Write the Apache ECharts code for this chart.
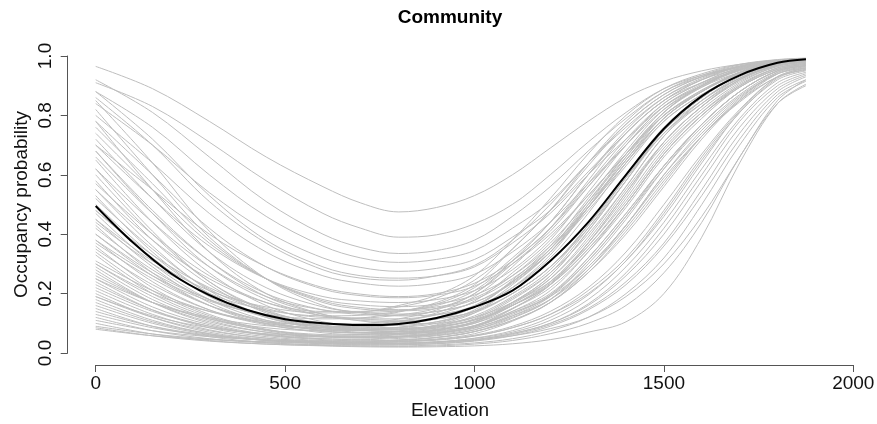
<!DOCTYPE html>
<html>
<head>
<meta charset="utf-8">
<script src="https://cdn.jsdelivr.net/npm/echarts@6/dist/echarts.min.js"></script>
<style>
  html, body { margin: 0; padding: 0; background: #fff; }
  #chart { width: 877px; height: 424px; }
</style>
</head>
<body>
<div id="chart"></div>
<script>
const elevation = [0, 150, 300, 450, 600, 700, 800, 900, 1000, 1100, 1200, 1300, 1400, 1500, 1600, 1700, 1800, 1875];

// grey posterior sample curves (occupancy at each elevation above)
const upperCurves = [
  [0.965, 0.89, 0.78, 0.66, 0.56, 0.505, 0.475, 0.49, 0.53, 0.60, 0.69, 0.78, 0.86, 0.915, 0.95, 0.972, 0.985, 0.99],
  [0.91, 0.83, 0.71, 0.58, 0.47, 0.42, 0.39, 0.398, 0.435, 0.50, 0.60, 0.71, 0.81, 0.89, 0.935, 0.965, 0.985, 0.99],
  [0.92, 0.81, 0.66, 0.51, 0.40, 0.355, 0.335, 0.345, 0.38, 0.46, 0.56, 0.68, 0.79, 0.88, 0.93, 0.962, 0.982, 0.99],
  [0.88, 0.76, 0.60, 0.46, 0.36, 0.32, 0.305, 0.315, 0.345, 0.42, 0.51, 0.64, 0.76, 0.86, 0.92, 0.957, 0.98, 0.988],
  [0.84, 0.70, 0.54, 0.41, 0.32, 0.288, 0.275, 0.285, 0.315, 0.39, 0.48, 0.61, 0.74, 0.85, 0.91, 0.952, 0.978, 0.987],
  [0.86, 0.70, 0.51, 0.37, 0.28, 0.252, 0.245, 0.26, 0.295, 0.38, 0.50, 0.64, 0.77, 0.87, 0.93, 0.965, 0.985, 0.99],
  [0.80, 0.64, 0.47, 0.34, 0.26, 0.235, 0.225, 0.235, 0.265, 0.34, 0.44, 0.57, 0.70, 0.82, 0.895, 0.945, 0.975, 0.985],
  [0.78, 0.60, 0.42, 0.29, 0.215, 0.193, 0.186, 0.195, 0.225, 0.30, 0.40, 0.53, 0.67, 0.80, 0.885, 0.94, 0.975, 0.985],
  [0.74, 0.55, 0.37, 0.25, 0.18, 0.162, 0.156, 0.165, 0.195, 0.26, 0.36, 0.49, 0.64, 0.78, 0.87, 0.935, 0.97, 0.98],
  [0.82, 0.60, 0.39, 0.25, 0.17, 0.148, 0.142, 0.15, 0.18, 0.25, 0.35, 0.49, 0.64, 0.79, 0.88, 0.94, 0.975, 0.985],
  [0.88, 0.72, 0.53, 0.38, 0.29, 0.26, 0.252, 0.26, 0.29, 0.37, 0.47, 0.60, 0.72, 0.83, 0.90, 0.95, 0.978, 0.987],
  [0.70, 0.55, 0.40, 0.29, 0.22, 0.198, 0.19, 0.20, 0.235, 0.31, 0.42, 0.56, 0.70, 0.83, 0.90, 0.955, 0.98, 0.99],
  [0.78, 0.55, 0.34, 0.20, 0.13, 0.108, 0.099, 0.10, 0.12, 0.17, 0.24, 0.36, 0.52, 0.69, 0.81, 0.90, 0.96, 0.975],
  [0.85, 0.64, 0.41, 0.25, 0.16, 0.135, 0.125, 0.13, 0.155, 0.22, 0.31, 0.44, 0.60, 0.75, 0.85, 0.925, 0.97, 0.98],
  [0.76, 0.57, 0.38, 0.25, 0.175, 0.153, 0.146, 0.155, 0.185, 0.26, 0.37, 0.51, 0.66, 0.80, 0.885, 0.945, 0.978, 0.988],
  [0.70, 0.52, 0.36, 0.25, 0.19, 0.175, 0.17, 0.18, 0.21, 0.28, 0.39, 0.53, 0.67, 0.80, 0.88, 0.94, 0.975, 0.985],
  [0.72, 0.52, 0.34, 0.22, 0.155, 0.137, 0.131, 0.14, 0.17, 0.235, 0.34, 0.48, 0.63, 0.78, 0.87, 0.935, 0.975, 0.985],
  [0.66, 0.47, 0.31, 0.20, 0.145, 0.13, 0.127, 0.14, 0.17, 0.24, 0.35, 0.50, 0.65, 0.80, 0.88, 0.945, 0.98, 0.99],
  [0.68, 0.47, 0.29, 0.18, 0.125, 0.11, 0.106, 0.115, 0.14, 0.20, 0.29, 0.42, 0.58, 0.74, 0.84, 0.92, 0.97, 0.982]
];

const middleCurves = [
  [0.65, 0.44, 0.27, 0.16, 0.105, 0.09, 0.085, 0.09, 0.112, 0.16, 0.23, 0.35, 0.50, 0.67, 0.80, 0.895, 0.955, 0.972],
  [0.60, 0.40, 0.24, 0.145, 0.095, 0.083, 0.08, 0.088, 0.11, 0.16, 0.235, 0.36, 0.51, 0.68, 0.81, 0.905, 0.96, 0.975],
  [0.55, 0.36, 0.21, 0.125, 0.085, 0.075, 0.072, 0.08, 0.10, 0.15, 0.22, 0.34, 0.49, 0.66, 0.79, 0.895, 0.955, 0.972],
  [0.50, 0.33, 0.20, 0.125, 0.09, 0.082, 0.082, 0.092, 0.12, 0.185, 0.27, 0.40, 0.56, 0.73, 0.84, 0.925, 0.97, 0.982],
  [0.45, 0.29, 0.17, 0.105, 0.075, 0.068, 0.068, 0.078, 0.10, 0.16, 0.24, 0.37, 0.53, 0.71, 0.83, 0.92, 0.968, 0.98],
  [0.42, 0.28, 0.18, 0.125, 0.10, 0.097, 0.102, 0.12, 0.155, 0.24, 0.34, 0.49, 0.65, 0.79, 0.88, 0.945, 0.98, 0.988],
  [0.38, 0.24, 0.145, 0.095, 0.072, 0.068, 0.072, 0.085, 0.115, 0.18, 0.27, 0.42, 0.59, 0.75, 0.86, 0.935, 0.975, 0.985],
  [0.35, 0.23, 0.145, 0.10, 0.08, 0.079, 0.086, 0.10, 0.14, 0.22, 0.32, 0.47, 0.64, 0.79, 0.88, 0.945, 0.98, 0.99],
  [0.33, 0.20, 0.12, 0.075, 0.055, 0.051, 0.053, 0.06, 0.078, 0.12, 0.18, 0.29, 0.43, 0.60, 0.74, 0.86, 0.94, 0.96],
  [0.30, 0.19, 0.115, 0.078, 0.062, 0.06, 0.066, 0.078, 0.105, 0.165, 0.25, 0.39, 0.56, 0.73, 0.85, 0.93, 0.972, 0.983],
  [0.28, 0.17, 0.10, 0.063, 0.048, 0.045, 0.049, 0.058, 0.078, 0.125, 0.19, 0.31, 0.46, 0.63, 0.77, 0.88, 0.95, 0.968],
  [0.26, 0.17, 0.115, 0.085, 0.075, 0.076, 0.087, 0.105, 0.145, 0.23, 0.34, 0.50, 0.67, 0.81, 0.90, 0.955, 0.98, 0.99],
  [0.24, 0.145, 0.085, 0.055, 0.042, 0.04, 0.044, 0.052, 0.072, 0.117, 0.18, 0.30, 0.45, 0.62, 0.77, 0.88, 0.95, 0.968],
  [0.22, 0.14, 0.09, 0.063, 0.054, 0.054, 0.062, 0.075, 0.103, 0.17, 0.26, 0.41, 0.58, 0.75, 0.86, 0.935, 0.975, 0.985],
  [0.20, 0.12, 0.07, 0.046, 0.036, 0.035, 0.039, 0.047, 0.065, 0.107, 0.17, 0.28, 0.43, 0.60, 0.75, 0.865, 0.94, 0.96],
  [0.19, 0.125, 0.085, 0.065, 0.06, 0.062, 0.074, 0.095, 0.135, 0.22, 0.33, 0.49, 0.66, 0.81, 0.90, 0.955, 0.98, 0.99],
  [0.62, 0.41, 0.24, 0.14, 0.09, 0.077, 0.072, 0.075, 0.092, 0.135, 0.19, 0.29, 0.43, 0.59, 0.73, 0.85, 0.93, 0.955],
  [0.58, 0.38, 0.23, 0.135, 0.09, 0.08, 0.077, 0.083, 0.105, 0.16, 0.23, 0.35, 0.50, 0.67, 0.80, 0.895, 0.955, 0.972],
  [0.52, 0.35, 0.215, 0.14, 0.10, 0.092, 0.093, 0.105, 0.135, 0.20, 0.29, 0.43, 0.60, 0.75, 0.86, 0.935, 0.975, 0.985],
  [0.47, 0.30, 0.18, 0.11, 0.075, 0.067, 0.066, 0.072, 0.092, 0.14, 0.20, 0.32, 0.47, 0.63, 0.77, 0.88, 0.95, 0.968],
  [0.44, 0.30, 0.20, 0.145, 0.125, 0.127, 0.14, 0.165, 0.22, 0.32, 0.44, 0.60, 0.74, 0.85, 0.92, 0.963, 0.985, 0.99],
  [0.40, 0.26, 0.16, 0.105, 0.08, 0.076, 0.08, 0.092, 0.125, 0.19, 0.28, 0.43, 0.60, 0.76, 0.865, 0.94, 0.977, 0.986],
  [0.36, 0.22, 0.13, 0.08, 0.057, 0.053, 0.055, 0.062, 0.083, 0.13, 0.195, 0.32, 0.47, 0.63, 0.77, 0.88, 0.95, 0.966],
  [0.31, 0.21, 0.14, 0.10, 0.085, 0.085, 0.097, 0.115, 0.155, 0.245, 0.36, 0.52, 0.68, 0.82, 0.90, 0.957, 0.98, 0.99],
  [0.29, 0.18, 0.11, 0.07, 0.054, 0.052, 0.057, 0.067, 0.092, 0.15, 0.23, 0.37, 0.54, 0.70, 0.82, 0.91, 0.965, 0.978],
  [0.68, 0.48, 0.31, 0.19, 0.13, 0.115, 0.11, 0.115, 0.14, 0.20, 0.29, 0.43, 0.59, 0.74, 0.85, 0.925, 0.97, 0.982],
  [0.57, 0.40, 0.26, 0.17, 0.125, 0.115, 0.115, 0.128, 0.16, 0.24, 0.34, 0.49, 0.65, 0.79, 0.88, 0.945, 0.98, 0.99],
  [0.48, 0.32, 0.19, 0.12, 0.085, 0.078, 0.078, 0.087, 0.112, 0.17, 0.25, 0.38, 0.55, 0.71, 0.83, 0.915, 0.965, 0.978],
  [0.53, 0.34, 0.20, 0.12, 0.08, 0.07, 0.066, 0.07, 0.085, 0.125, 0.18, 0.28, 0.42, 0.58, 0.73, 0.845, 0.93, 0.952],
  [0.43, 0.27, 0.16, 0.098, 0.068, 0.062, 0.061, 0.068, 0.088, 0.135, 0.195, 0.31, 0.46, 0.62, 0.76, 0.87, 0.945, 0.963],
  [0.37, 0.25, 0.16, 0.11, 0.09, 0.089, 0.098, 0.115, 0.155, 0.24, 0.35, 0.51, 0.67, 0.81, 0.895, 0.953, 0.98, 0.988],
  [0.34, 0.21, 0.125, 0.078, 0.057, 0.054, 0.056, 0.065, 0.088, 0.14, 0.21, 0.34, 0.50, 0.67, 0.80, 0.90, 0.96, 0.975],
  [0.27, 0.17, 0.105, 0.07, 0.056, 0.056, 0.064, 0.077, 0.105, 0.17, 0.26, 0.41, 0.58, 0.75, 0.86, 0.935, 0.975, 0.985],
  [0.23, 0.145, 0.09, 0.06, 0.048, 0.047, 0.053, 0.065, 0.09, 0.148, 0.23, 0.37, 0.54, 0.71, 0.83, 0.92, 0.968, 0.98],
  [0.55, 0.38, 0.25, 0.17, 0.14, 0.14, 0.155, 0.185, 0.245, 0.35, 0.48, 0.63, 0.77, 0.87, 0.93, 0.967, 0.985, 0.99],
  [0.45, 0.31, 0.21, 0.155, 0.135, 0.138, 0.16, 0.195, 0.26, 0.38, 0.52, 0.67, 0.80, 0.89, 0.94, 0.972, 0.988, 0.993],
  [0.38, 0.26, 0.175, 0.13, 0.115, 0.118, 0.138, 0.17, 0.23, 0.35, 0.48, 0.64, 0.78, 0.88, 0.935, 0.97, 0.987, 0.992],
  [0.30, 0.20, 0.14, 0.105, 0.095, 0.098, 0.115, 0.145, 0.20, 0.31, 0.44, 0.60, 0.75, 0.86, 0.925, 0.965, 0.985, 0.99],
  [0.62, 0.44, 0.29, 0.19, 0.145, 0.137, 0.142, 0.16, 0.21, 0.31, 0.42, 0.57, 0.72, 0.84, 0.91, 0.96, 0.982, 0.99],
  [0.25, 0.17, 0.12, 0.092, 0.085, 0.088, 0.105, 0.135, 0.19, 0.29, 0.42, 0.58, 0.74, 0.85, 0.92, 0.965, 0.985, 0.99],
  [0.48, 0.33, 0.22, 0.15, 0.12, 0.118, 0.128, 0.15, 0.20, 0.30, 0.41, 0.56, 0.71, 0.84, 0.91, 0.96, 0.982, 0.99],
  [0.40, 0.27, 0.18, 0.125, 0.10, 0.098, 0.107, 0.13, 0.175, 0.27, 0.38, 0.54, 0.70, 0.83, 0.905, 0.955, 0.98, 0.99]
];

const lowerCurves = [
  [0.15, 0.09, 0.055, 0.035, 0.026, 0.023, 0.022, 0.024, 0.03, 0.042, 0.065, 0.10, 0.16, 0.27, 0.44, 0.66, 0.84, 0.90],
  [0.10, 0.064, 0.042, 0.03, 0.024, 0.021, 0.02, 0.021, 0.024, 0.031, 0.045, 0.07, 0.105, 0.20, 0.39, 0.64, 0.84, 0.905],
  [0.085, 0.058, 0.04, 0.03, 0.025, 0.024, 0.024, 0.027, 0.034, 0.048, 0.075, 0.12, 0.20, 0.32, 0.50, 0.70, 0.86, 0.915],
  [0.18, 0.11, 0.065, 0.042, 0.031, 0.028, 0.028, 0.031, 0.04, 0.058, 0.09, 0.145, 0.23, 0.36, 0.53, 0.72, 0.87, 0.92],
  [0.09, 0.064, 0.047, 0.037, 0.032, 0.031, 0.032, 0.036, 0.045, 0.065, 0.10, 0.16, 0.26, 0.40, 0.58, 0.76, 0.89, 0.935],
  [0.13, 0.085, 0.058, 0.043, 0.036, 0.034, 0.034, 0.037, 0.044, 0.058, 0.082, 0.12, 0.19, 0.30, 0.46, 0.66, 0.85, 0.92],
  [0.21, 0.13, 0.078, 0.05, 0.037, 0.034, 0.034, 0.038, 0.049, 0.07, 0.11, 0.18, 0.29, 0.44, 0.62, 0.79, 0.91, 0.945],
  [0.16, 0.10, 0.062, 0.042, 0.033, 0.031, 0.032, 0.037, 0.05, 0.075, 0.12, 0.195, 0.31, 0.46, 0.64, 0.81, 0.92, 0.95],
  [0.12, 0.075, 0.048, 0.034, 0.028, 0.027, 0.028, 0.032, 0.042, 0.062, 0.095, 0.15, 0.24, 0.37, 0.55, 0.74, 0.88, 0.93],
  [0.17, 0.105, 0.065, 0.044, 0.034, 0.031, 0.031, 0.035, 0.045, 0.066, 0.10, 0.165, 0.27, 0.42, 0.60, 0.78, 0.90, 0.94],
  [0.08, 0.058, 0.045, 0.038, 0.036, 0.037, 0.042, 0.052, 0.072, 0.11, 0.17, 0.27, 0.40, 0.56, 0.72, 0.85, 0.94, 0.965],
  [0.11, 0.075, 0.055, 0.044, 0.04, 0.04, 0.044, 0.053, 0.072, 0.11, 0.17, 0.27, 0.41, 0.57, 0.73, 0.855, 0.945, 0.968],
  [0.14, 0.09, 0.06, 0.044, 0.037, 0.036, 0.038, 0.045, 0.06, 0.09, 0.14, 0.22, 0.34, 0.50, 0.67, 0.82, 0.93, 0.96],
  [0.25, 0.155, 0.095, 0.06, 0.045, 0.041, 0.041, 0.046, 0.058, 0.085, 0.13, 0.20, 0.31, 0.47, 0.65, 0.81, 0.925, 0.955],
  [0.19, 0.12, 0.075, 0.05, 0.04, 0.037, 0.038, 0.043, 0.057, 0.085, 0.13, 0.21, 0.32, 0.48, 0.66, 0.815, 0.93, 0.958]
];

// black community mean curve
const meanElevation = [0, 100, 200, 300, 400, 500, 600, 700, 800, 900, 1000, 1100, 1200, 1300, 1400, 1500, 1600, 1700, 1800, 1875];
const meanOccupancy = [0.495, 0.37, 0.267, 0.195, 0.145, 0.114, 0.100, 0.094, 0.098, 0.118, 0.155, 0.21, 0.31, 0.44, 0.60, 0.755, 0.865, 0.935, 0.977, 0.989];

const xTicks = [0, 500, 1000, 1500, 2000];
const yTicks = [0, 0.2, 0.4, 0.6, 0.8, 1.0];

const font = 'Liberation Sans, Arial, sans-serif';
const chart = echarts.init(document.getElementById('chart'));

const greySeries = upperCurves.concat(middleCurves, lowerCurves).map((c, i) => ({
  name: 'sample' + i,
  type: 'line',
  data: elevation.map((x, j) => [x, c[j]]),
  smooth: 0.35,
  symbol: 'none',
  silent: true,
  lineStyle: { color: '#bebebe', width: 1 },
  z: 2
}));

chart.setOption({
  animation: false,
  graphic: [{
    type: 'text',
    x: 450,
    y: 18,
    style: {
      text: 'Community',
      font: 'bold 19px ' + font,
      fill: '#000',
      textAlign: 'center',
      textVerticalAlign: 'middle'
    }
  }],
  grid: { left: 95.7, right: 23.7, top: 56, bottom: 71, outerBoundsMode: 'none', containLabel: false },
  xAxis: {
    type: 'value',
    min: xTicks[0],
    max: xTicks[xTicks.length - 1],
    interval: 500,
    offset: 12,
    name: 'Elevation',
    nameLocation: 'middle',
    nameGap: 36,
    nameMoveOverlap: false,
    nameTextStyle: { fontFamily: font, fontSize: 19, color: '#111', padding: [0, 49, 0, 0] },
    axisLine: { onZero: false, lineStyle: { color: '#555', width: 1 } },
    axisTick: { length: 7, lineStyle: { color: '#555' } },
    axisLabel: { fontFamily: font, fontSize: 19, color: '#111', margin: 9, formatter: v => String(v) },
    splitLine: { show: false }
  },
  yAxis: {
    type: 'value',
    min: yTicks[0],
    max: yTicks[yTicks.length - 1],
    interval: 0.2,
    offset: 28,
    name: 'Occupancy probability',
    nameLocation: 'middle',
    nameGap: 36,
    nameMoveOverlap: false,
    nameTextStyle: { fontFamily: font, fontSize: 19, color: '#111' },
    axisLine: { show: true, onZero: false, lineStyle: { color: '#555', width: 1 } },
    axisTick: { show: true, length: 7, lineStyle: { color: '#555' } },
    axisLabel: { fontFamily: font, fontSize: 19, color: '#111', margin: 12, rotate: 90, formatter: v => v.toFixed(1) },
    splitLine: { show: false }
  },
  series: greySeries.concat([{
    name: 'mean',
    type: 'line',
    data: meanElevation.map((x, j) => [x, meanOccupancy[j]]),
    smooth: 0.35,
    symbol: 'none',
    silent: true,
    lineStyle: { color: '#000', width: 2 },
    z: 5
  }])
});
</script>
</body>
</html>
